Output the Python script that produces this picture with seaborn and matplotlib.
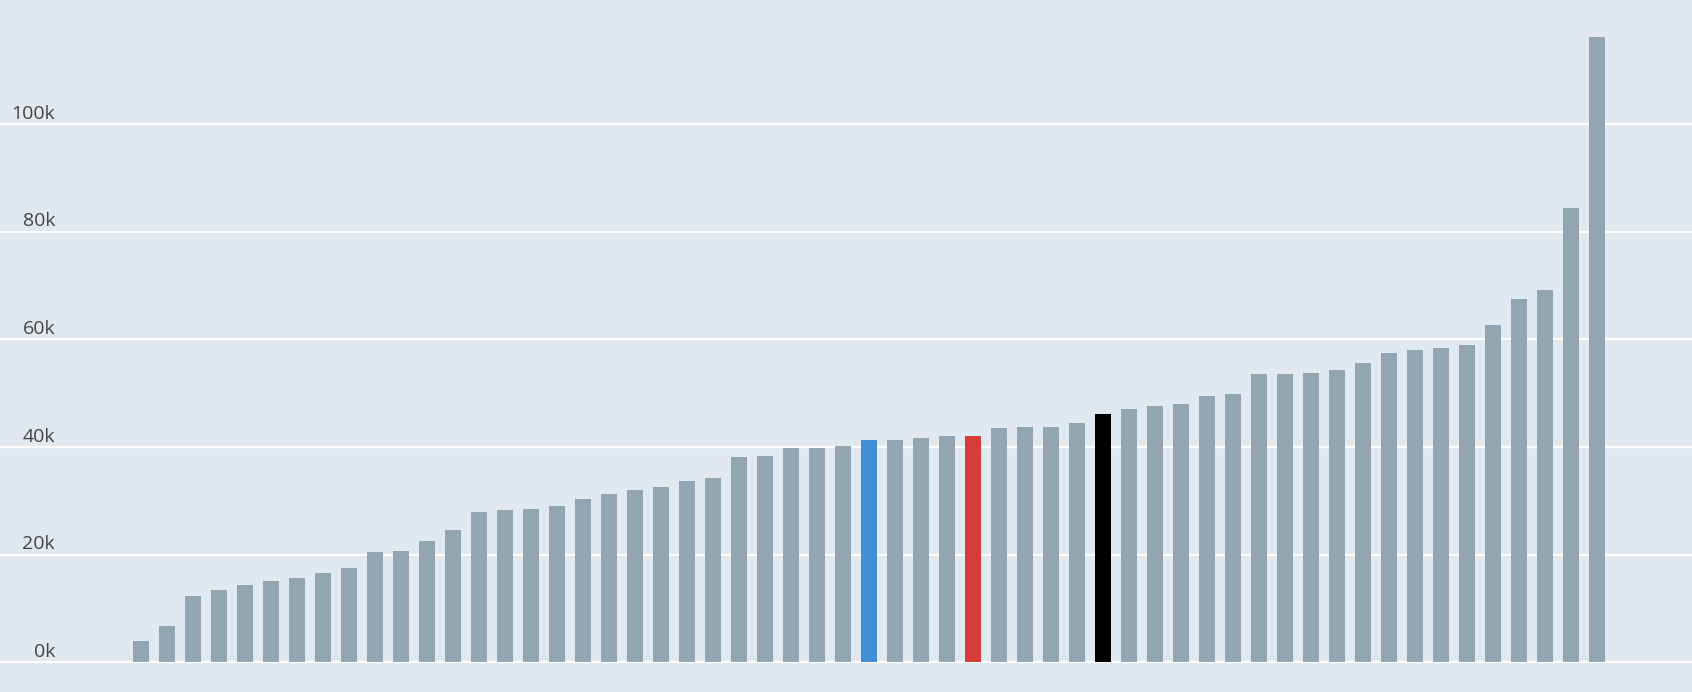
import matplotlib
matplotlib.use("Agg")
import matplotlib.pyplot as plt
import matplotlib.transforms as mtransforms
import seaborn as sns
import pandas as pd

# ---- data (values in thousands) ----
categories = [f"C{i:02d}" for i in range(1, 58)]
values = [3.95, 6.74, 12.31, 13.42, 14.35, 15.09, 15.65, 16.58, 17.51, 20.48,
          20.66, 22.52, 24.56, 27.91, 28.28, 28.46, 29.02, 30.32, 31.25, 31.99,
          32.55, 33.66, 34.22, 38.12, 38.30, 39.79, 39.79, 40.16, 41.27, 41.27,
          41.65, 42.02, 42.02, 43.50, 43.69, 43.69, 44.43, 46.10, 47.03, 47.59,
          47.96, 49.44, 49.81, 53.53, 53.53, 53.71, 54.27, 55.57, 57.43, 57.98,
          58.36, 58.91, 62.63, 67.45, 69.12, 84.35, 116.3]
groups = ["other"] * 57
groups[28] = "blue"
groups[32] = "red"
groups[37] = "black"
tick_values = [0, 20, 40, 60, 80, 100]
tick_labels = ["0k", "20k", "40k", "60k", "80k", "100k"]

palette = {"other": "#93a5b1", "blue": "#418fd7", "red": "#d43d38", "black": "#000000"}
bg = "#e1e9f0"

df = pd.DataFrame({"category": categories, "value": values, "group": groups})

sns.set_theme(style="white")
plt.rcParams["font.family"] = ["Open Sans", "DejaVu Sans"]

fig = plt.figure(figsize=(16.92, 6.92), dpi=100, facecolor=bg)
ax = fig.add_axes([0, 0, 1, 1])
ax.set_facecolor(bg)

sns.barplot(data=df, x="category", y="value", hue="group", palette=palette,
            dodge=False, legend=False, width=0.615, saturation=1,
            linewidth=0, ax=ax, zorder=3)

ax.set_xlim(-5.423, 59.65)
ax.set_ylim(-5.52, 123.1)

ax.set_axisbelow(True)
for v in tick_values:
    ax.axhline(v, color="white", linewidth=1.5, zorder=1)

ax.set_xticks([])
ax.set_yticks([])
ax.set_xlabel("")
ax.set_ylabel("")
for s in ax.spines.values():
    s.set_visible(False)

trans = mtransforms.blended_transform_factory(ax.transAxes, ax.transData)
trans = mtransforms.offset_copy(trans, fig=fig, x=0, y=5.5, units="dots")
for v, lab in zip(tick_values, tick_labels):
    ax.text(55 / 1692, v, lab, transform=trans, ha="right", va="baseline",
            fontsize=14, color="#444444", zorder=4)

fig.savefig("out.png", dpi=100, facecolor=bg)
